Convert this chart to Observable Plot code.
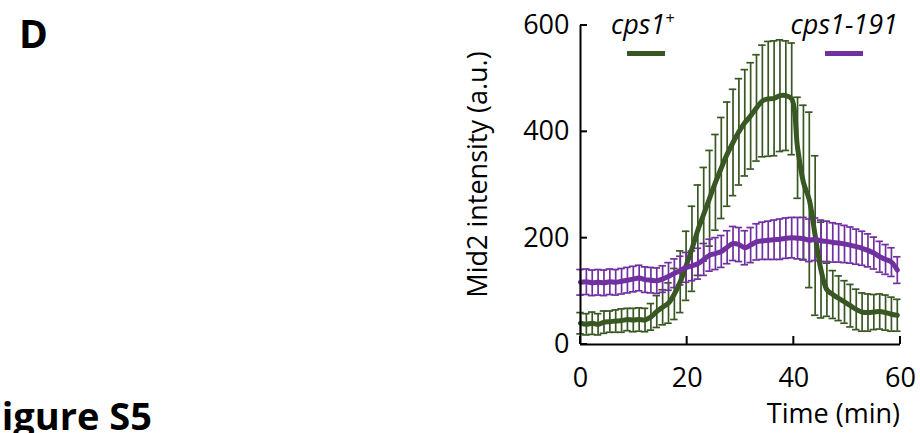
<!DOCTYPE html>
<html>
<head>
<meta charset="utf-8">
<script src="https://cdn.jsdelivr.net/npm/d3@7"></script>
<script src="https://cdn.jsdelivr.net/npm/@observablehq/plot@0.6"></script>
<style>
  html, body { margin: 0; padding: 0; background: #fff; }
  #chart { width: 920px; height: 433px; overflow: hidden; }
</style>
</head>
<body>
<div id="chart"></div>
<script>
// Sampling times (min)
const times = [0.0, 1.1, 2.2, 3.3, 4.4, 5.5, 6.6, 7.7, 8.8, 9.9, 11.0, 12.1, 13.2, 14.3, 15.4, 16.5, 17.6, 18.7, 19.8, 20.9,
  22.0, 23.1, 24.2, 25.3, 26.4, 27.5, 28.6, 29.7, 30.8, 31.9, 33.0, 34.1, 35.2, 36.3, 37.4, 38.5, 39.6, 40.7, 41.8, 42.9,
  44.0, 45.1, 46.2, 47.3, 48.4, 49.5, 50.6, 51.7, 52.8, 53.9, 55.0, 56.1, 57.2, 58.3, 59.4];

// cps1+ : mean Mid2 intensity and error
const wtMean = [40, 38, 40, 38, 42, 43, 44, 45, 47, 46, 47, 46, 52, 62, 70, 78, 95, 118, 148, 180,
  215, 245, 275, 305, 332, 358, 380, 400, 417, 430, 445, 458, 462, 463, 468, 468, 462, 370, 305, 272,
  205, 140, 103, 94, 87, 80, 73, 66, 61, 60, 61, 62, 60, 57, 55];
const wtErr = [20, 20, 21, 20, 21, 20, 21, 22, 21, 22, 22, 22, 25, 30, 33, 38, 48, 58, 65, 80,
  85, 88, 90, 90, 95, 98, 100, 100, 100, 100, 100, 105, 108, 108, 105, 103, 105, 95, 145, 165,
  150, 90, 50, 45, 42, 40, 40, 38, 36, 35, 33, 33, 33, 32, 30];

// cps1-191 : mean Mid2 intensity and error
const mutMean = [117, 118, 116, 117, 116, 118, 117, 119, 121, 123, 125, 122, 121, 120, 123, 128, 134, 139, 145, 148,
  152, 160, 168, 171, 175, 183, 190, 188, 182, 187, 193, 195, 196, 197, 198, 200, 201, 200, 199, 196,
  198, 195, 194, 192, 191, 189, 187, 184, 181, 177, 172, 165, 160, 155, 140];
const mutErr = [24, 24, 24, 24, 24, 24, 24, 24, 24, 24, 24, 24, 24, 24, 25, 26, 27, 27, 28, 28,
  29, 30, 30, 30, 30, 31, 32, 32, 32, 33, 34, 35, 36, 37, 38, 38, 38, 39, 40, 40,
  40, 39, 38, 37, 36, 35, 34, 33, 32, 31, 30, 29, 28, 27, 25];

const xTicks = [0, 20, 40, 60];
const yTicks = [0, 200, 400, 600];
const seriesNames = ["cps1", "cps1-191"];
const colors = ["#385723", "#7030a0"];

const font = "'Open Sans', sans-serif";
const capHalf = 0.7; // half width of error-bar caps, in minutes

const wt = times.map((t, i) => ({t, m: wtMean[i], e: wtErr[i]}));
const mut = times.map((t, i) => ({t, m: mutMean[i], e: mutErr[i]}));

function errorBars(data, color) {
  return [
    Plot.ruleX(data, {x: "t", y1: d => d.m - d.e, y2: d => d.m + d.e, stroke: color, strokeWidth: 1.7}),
    Plot.ruleY(data, {y: d => d.m + d.e, x1: d => d.t - capHalf, x2: d => d.t + capHalf, stroke: color, strokeWidth: 1.7}),
    Plot.ruleY(data, {y: d => d.m - d.e, x1: d => d.t - capHalf, x2: d => d.t + capHalf, stroke: color, strokeWidth: 1.7})
  ];
}

const plot = Plot.plot({
  width: 920,
  height: 433,
  marginLeft: 580,
  marginRight: 20,
  marginTop: 25,
  marginBottom: 89,
  style: {fontFamily: font, background: "#fff", overflow: "visible"},
  x: {domain: [0, 60]},
  y: {domain: [0, 600]},
  marks: [
    ...errorBars(wt, colors[0]),
    ...errorBars(mut, colors[1]),
    Plot.line(wt, {x: "t", y: "m", stroke: colors[0], strokeWidth: 5, curve: "catmull-rom"}),
    Plot.line(mut, {x: "t", y: "m", stroke: colors[1], strokeWidth: 5, curve: "catmull-rom"}),
    Plot.ruleX([0], {stroke: "#000", strokeWidth: 2}),
    Plot.ruleY([0], {stroke: "#000", strokeWidth: 2}),
    Plot.axisX({ticks: xTicks, tickSize: 0, tickPadding: 23, fontSize: 27, label: null, tickFormat: d => d}),
    Plot.axisY({ticks: yTicks, tickSize: 0, tickPadding: 11, fontSize: 27, label: null, tickFormat: d => d})
  ]
});

const svg = d3.select(plot);
const sx = plot.scale("x"), sy = plot.scale("y");
const x0 = sx.apply(0), y0 = sy.apply(0);

// inward tick marks
yTicks.forEach(v => {
  svg.append("line").attr("x1", x0).attr("x2", x0 + 7)
    .attr("y1", sy.apply(v)).attr("y2", sy.apply(v))
    .attr("stroke", "#000").attr("stroke-width", 2);
});
xTicks.forEach(v => {
  svg.append("line").attr("x1", sx.apply(v)).attr("x2", sx.apply(v))
    .attr("y1", y0).attr("y2", y0 - 8)
    .attr("stroke", "#000").attr("stroke-width", 2);
});

// axis titles
svg.append("text")
  .attr("transform", `translate(487,${(sy.apply(0) + sy.apply(600)) / 2 - 10}) rotate(-90)`)
  .attr("text-anchor", "middle")
  .attr("font-family", font).attr("font-size", 27)
  .text("Mid2 intensity (a.u.)");
svg.append("text")
  .attr("x", 900).attr("y", 423)
  .attr("text-anchor", "end")
  .attr("font-family", font).attr("font-size", 27)
  .text("Time (min)");

// legend
const leg1 = svg.append("text").attr("x", 611).attr("y", 34).attr("text-anchor", "start")
  .attr("font-family", font).attr("font-size", 27).attr("font-style", "italic");
leg1.append("tspan").text(seriesNames[0]);
leg1.append("tspan").attr("font-size", 16).attr("dy", -10).text("+");
svg.append("text").attr("x", 898).attr("y", 34).attr("text-anchor", "end")
  .attr("font-family", font).attr("font-size", 27).attr("font-style", "italic")
  .text(seriesNames[1]);
svg.append("line").attr("x1", 627).attr("x2", 665).attr("y1", 53.5).attr("y2", 53.5)
  .attr("stroke", colors[0]).attr("stroke-width", 5);
svg.append("line").attr("x1", 825).attr("x2", 863).attr("y1", 53.5).attr("y2", 53.5)
  .attr("stroke", colors[1]).attr("stroke-width", 5);

// panel letter and figure caption
svg.append("text").attr("x", 19).attr("y", 48).attr("text-anchor", "start")
  .attr("font-family", font).attr("font-size", 39).attr("font-weight", "bold").text("D");
svg.append("text").attr("x", 152).attr("y", 430).attr("text-anchor", "end")
  .attr("font-family", font).attr("font-size", 38).attr("font-weight", "bold").text("Figure S5");

document.getElementById("chart").appendChild(plot);
</script>
</body>
</html>
